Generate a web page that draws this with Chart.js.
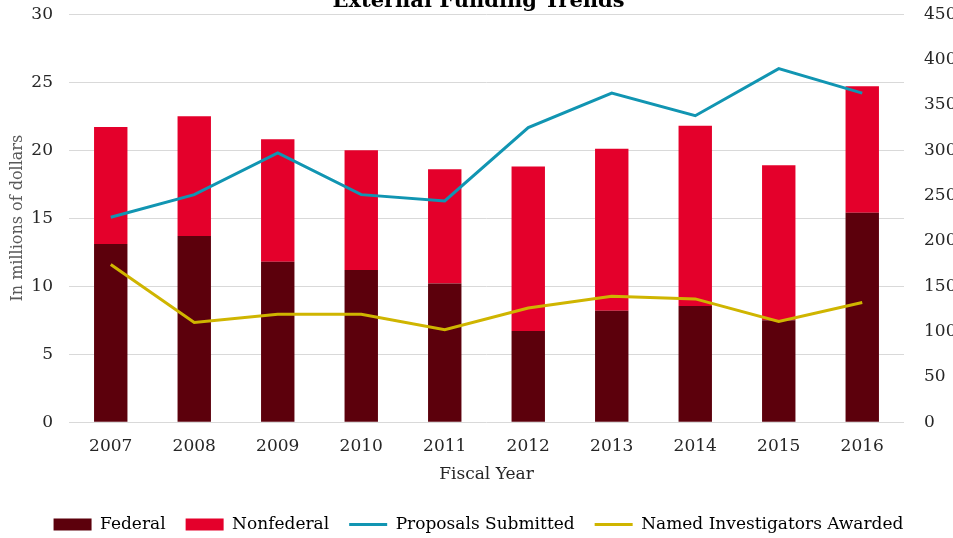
<!DOCTYPE html>
<html>
<head>
<meta charset="utf-8">
<title>External Funding Trends</title>
<script src="https://cdn.jsdelivr.net/npm/chart.js@4"></script>
<style>
  html, body { margin: 0; padding: 0; background: #fff; overflow: hidden; }
  /* title is clipped at the top in the original, so the canvas starts a bit above the page */
  #wrap { position: absolute; left: 0; top: -12px; width: 953px; height: 550px; }
</style>
</head>
<body>
<div id="wrap"><canvas id="fundingChart"></canvas></div>
<script>
// fiscal years + values
const years = ["2007", "2008", "2009", "2010", "2011", "2012", "2013", "2014", "2015", "2016"];
const federal = [13.1, 13.7, 11.8, 11.2, 10.2, 6.7, 8.2, 8.55, 7.5, 15.4];       // millions
const nonfederal = [8.6, 8.8, 9.0, 8.8, 8.4, 12.1, 11.9, 13.25, 11.4, 9.3];      // millions
const proposals = [226, 251, 297, 251, 244, 325, 363, 338, 390, 363];
const investigators = [174, 110, 119, 119, 102, 126, 139, 136, 111, 132];

const serif = "'DejaVu Serif', 'Liberation Serif', serif";
const gridColor = "#d9d9d9";
const textColor = "#262626";

new Chart(document.getElementById("fundingChart"), {
  type: "bar",
  data: {
    labels: years,
    datasets: [
      {
        label: "Federal",
        data: federal,
        backgroundColor: "#5c000c",
        yAxisID: "y",
        order: 1,
        barPercentage: 0.4,
        categoryPercentage: 1
      },
      {
        label: "Nonfederal",
        data: nonfederal,
        backgroundColor: "#e4002b",
        yAxisID: "y",
        order: 1,
        barPercentage: 0.4,
        categoryPercentage: 1
      },
      {
        type: "line",
        label: "Proposals Submitted",
        data: proposals,
        borderColor: "#1195b2",
        backgroundColor: "#1195b2",
        borderWidth: 3,
        pointRadius: 0,
        tension: 0,
        yAxisID: "y1",
        order: 0
      },
      {
        type: "line",
        label: "Named Investigators Awarded",
        data: investigators,
        borderColor: "#cfb500",
        backgroundColor: "#cfb500",
        borderWidth: 3,
        pointRadius: 0,
        tension: 0,
        yAxisID: "y1",
        order: 0
      }
    ]
  },
  options: {
    responsive: true,
    maintainAspectRatio: false,
    animation: false,
    layout: { padding: { left: 4, right: 0, top: 0, bottom: -5 } },
    plugins: {
      title: {
        display: true,
        text: "External Funding Trends",
        color: "#000",
        font: { family: serif, size: 21, weight: "bold" },
        padding: { top: 0, bottom: 0 }
      },
      tooltip: { enabled: false },
      legend: {
        position: "bottom",
        labels: {
          color: "#000",
          font: { family: serif, size: 17 },
          usePointStyle: true,
          pointStyleWidth: 38,
          boxHeight: 12,
          padding: 20,
          generateLabels: function (chart) {
            const items = Chart.defaults.plugins.legend.labels.generateLabels(chart);
            items.sort((a, b) => a.datasetIndex - b.datasetIndex);
            items.forEach(item => {
              const ds = chart.data.datasets[item.datasetIndex];
              if (ds.type === "line") {
                item.pointStyle = "line";
                item.lineWidth = 3;
                item.strokeStyle = ds.borderColor;
              } else {
                item.pointStyle = "rect";
                item.lineWidth = 0;
              }
            });
            return items;
          }
        }
      }
    },
    scales: {
      x: {
        stacked: true,
        grid: { display: false },
        border: { display: false },
        ticks: { color: textColor, font: { family: serif, size: 17 }, padding: 6 },
        title: {
          display: true,
          text: "Fiscal Year",
          color: textColor,
          font: { family: serif, size: 17 },
          padding: { top: 2, bottom: 11 }
        }
      },
      y: {
        stacked: true,
        position: "left",
        min: 0,
        max: 30,
        ticks: { stepSize: 5, color: textColor, font: { family: serif, size: 17 }, padding: 16 },
        grid: { color: gridColor, drawTicks: false },
        border: { display: false },
        title: {
          display: true,
          text: "In millions of dollars",
          color: "#595959",
          font: { family: serif, size: 16 },
          padding: { top: 4, bottom: 0 }
        },
        afterFit: function (axis) { axis.width = 65; }
      },
      y1: {
        position: "right",
        min: 0,
        max: 450,
        ticks: { stepSize: 50, color: textColor, font: { family: serif, size: 17 }, padding: 12 },
        grid: { display: false },
        border: { display: false },
        afterFit: function (axis) { axis.width = 49; }
      }
    }
  }
});
</script>
</body>
</html>
